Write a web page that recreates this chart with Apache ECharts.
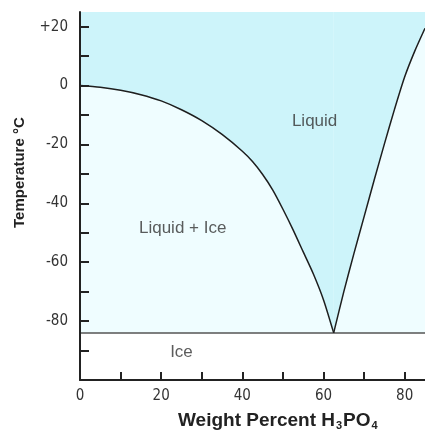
<!DOCTYPE html>
<html>
<head>
<meta charset="utf-8">
<script src="https://cdn.jsdelivr.net/npm/echarts@6/dist/echarts.min.js"></script>
<style>html,body{margin:0;padding:0;background:#fff}#c{width:425px;height:437px}</style>
</head>
<body>
<div id="c"></div>
<script>
// Liquidus, ice-rich side (wt% H3PO4, °C)
var leftBranch = [[0,0],[5,-0.6],[10,-1.6],[15,-3.1],[20,-5.2],[25,-8.2],[30,-11.9],[35,-16.6],[40,-22.3],[42.5,-25.8],[45,-30.2],[47.5,-35.5],[50,-42],[52.5,-49],[55,-56.5],[57.5,-64],[60,-72.8],[62.5,-84]];
// Liquidus, acid-rich side
var rightBranch = [[62.5,-84],[65,-70],[67.5,-57],[70,-44.5],[72.5,-32],[75,-19.8],[77.5,-8],[80,3],[82.5,11.8],[85,19.5]];
// Eutectic (solidus) line
var iceLine = [[0,-84],[85,-84]];
// Region labels
var regionLabels = [{name:'Liquid', value:[57.8,-12]},{name:'Liquid + Ice', value:[25.3,-48.5]},{name:'Ice', value:[25,-90.5]}];
var yTicks = [-90,-80,-70,-60,-50,-40,-30,-20,-10,0,10,20];
var yLabels = [-80,-60,-40,-20,0,20];
var xTicks = [10,20,30,40,50,60,70,80];
var xLabels = [0,20,40,60,80];

var chart = echarts.init(document.getElementById('c'), null, {renderer:'canvas'});
var tickFont = '"DejaVu Sans Condensed", "DejaVu Sans", sans-serif';
chart.setOption({
  animation:false,
  backgroundColor:'#fff',
  grid:{left:80, right:0, top:12, bottom:57},
  xAxis:{type:'value', min:0, max:85, z:10,
    axisLine:{show:true, onZero:false, lineStyle:{color:'#222', width:2}},
    axisTick:{show:true, inside:true, length:8, customValues:xTicks, lineStyle:{color:'#222', width:2}},
    axisLabel:{customValues:xLabels, margin:9, color:'#333', fontSize:15, fontFamily:tickFont},
    splitLine:{show:false}},
  yAxis:{type:'value', min:-100, max:25, z:10,
    axisLine:{show:true, onZero:false, lineStyle:{color:'#222', width:2}},
    axisTick:{show:true, inside:true, length:9, customValues:yTicks, lineStyle:{color:'#222', width:2}},
    axisLabel:{customValues:yLabels, margin:12, color:'#333', fontSize:15, fontFamily:tickFont,
      formatter:function(v){return v>0?'+'+v:String(v);}},
    splitLine:{show:false}},
  graphic:[
    {type:'text', rotation:Math.PI/2, x:12, y:228, style:{text:'Temperature °C', font:'bold 15px "Liberation Sans", Arial, sans-serif', fill:'#222'}},
    {type:'text', x:178, y:410, style:{
      rich:{b:{font:'bold 19px "Liberation Sans", Arial, sans-serif', fill:'#222'}, s:{font:'bold 11px "Liberation Sans", Arial, sans-serif', fill:'#222', padding:[10,1,0,1]}},
      text:'{b|Weight Percent H}{s|3}{b|PO}{s|4}'}}
  ],
  series:[
    {type:'line', data:iceLine, symbol:'none', z:2, lineStyle:{color:'#555', width:1.5},
      areaStyle:{origin:'end', color:'#effdff', opacity:1}},
    {type:'line', data:leftBranch, symbol:'none', smooth:0.25, z:3, lineStyle:{color:'#1e1e1e', width:1.5},
      areaStyle:{origin:'end', color:'#cdf4fa', opacity:1}},
    {type:'line', data:rightBranch, symbol:'none', smooth:0.25, z:3, lineStyle:{color:'#1e1e1e', width:1.5},
      areaStyle:{origin:'end', color:'#cdf4fa', opacity:1}},
    {type:'scatter', data:regionLabels, symbolSize:0, z:5,
      label:{show:true, position:'inside', formatter:'{b}', color:'#333', fontSize:17, fontFamily:'"Liberation Sans", Arial, sans-serif'}}
  ]
});
</script>
</body>
</html>
